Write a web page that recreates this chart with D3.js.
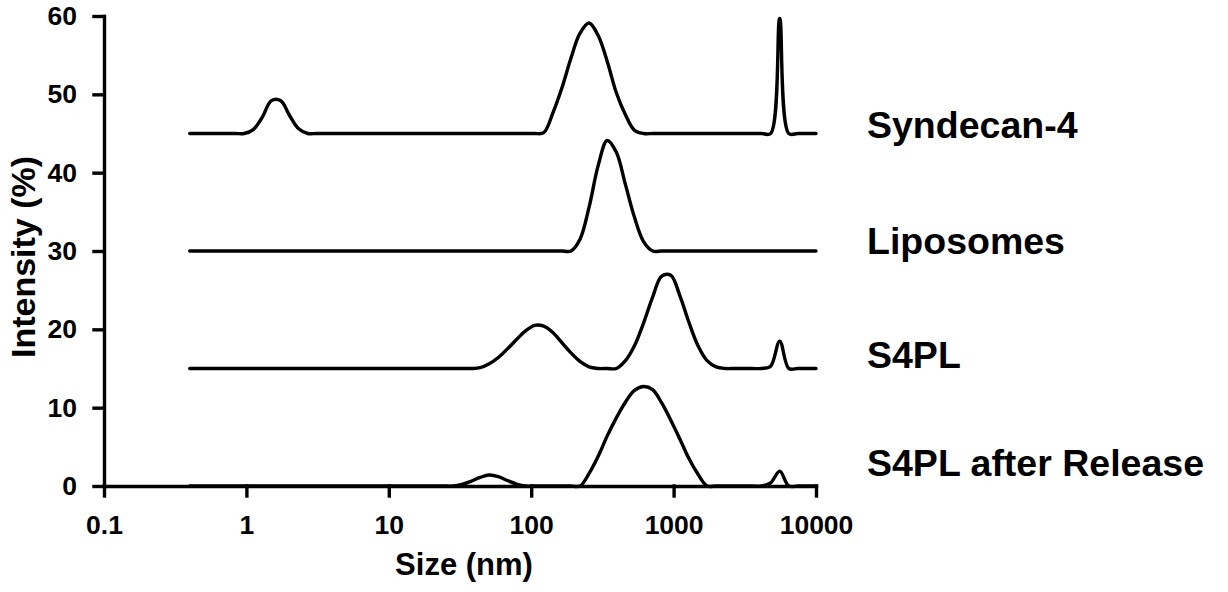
<!DOCTYPE html>
<html>
<head>
<meta charset="utf-8">
<script src="https://cdn.jsdelivr.net/npm/d3@7"></script>
<style>
  body { margin: 0; background: #fff; }
  svg { display: block; }
</style>
</head>
<body>
<script>
// DLS size bins (nm), as exported by the instrument
var sizes = [
  0.4, 0.4632, 0.5365, 0.6213, 0.7195, 0.8332, 0.9649, 1.117, 1.294, 1.499,
  1.736, 2.010, 2.328, 2.696, 3.122, 3.615, 4.187, 4.849, 5.615, 6.503,
  7.531, 8.721, 10.10, 11.70, 13.54, 15.69, 18.17, 21.04, 24.36, 28.21,
  32.67, 37.84, 43.82, 50.75, 58.77, 68.06, 78.82, 91.28, 105.7, 122.4,
  141.8, 164.2, 190.1, 220.2, 255.0, 295.3, 342.0, 396.1, 458.7, 531.2,
  615.1, 712.4, 825.0, 955.4, 1106, 1281, 1484, 1718, 1990, 2305,
  2669, 3091, 3580, 4145, 4801, 5560, 6439, 7456, 8635, 10000
];

// intensity (%) per bin
var syndecan4 = [
  0, 0, 0, 0, 0, 0, 0, 0.5, 2.1, 4.2,
  4.2, 2.3, 0.6, 0, 0, 0, 0, 0, 0, 0,
  0, 0, 0, 0, 0, 0, 0, 0, 0, 0,
  0, 0, 0, 0, 0, 0, 0, 0, 0, 0.1,
  2.6, 5.8, 9.6, 12.8, 14.1, 12.5, 9.2, 5.2, 2.4, 0.4,
  0, 0, 0, 0, 0, 0, 0, 0, 0, 0,
  0, 0, 0, 0, 0, 14.7, 0, 0, 0, 0
];
var liposomes = [
  0, 0, 0, 0, 0, 0, 0, 0, 0, 0,
  0, 0, 0, 0, 0, 0, 0, 0, 0, 0,
  0, 0, 0, 0, 0, 0, 0, 0, 0, 0,
  0, 0, 0, 0, 0, 0, 0, 0, 0, 0,
  0, 0, 0, 1.5, 5.6, 10.9, 14.1, 12.6, 8.5, 4.3,
  1.2, 0, 0, 0, 0, 0, 0, 0, 0, 0,
  0, 0, 0, 0, 0, 0, 0, 0, 0, 0
];
var s4pl = [
  0, 0, 0, 0, 0, 0, 0, 0, 0, 0,
  0, 0, 0, 0, 0, 0, 0, 0, 0, 0,
  0, 0, 0, 0, 0, 0, 0, 0, 0, 0,
  0, 0, 0.1, 0.6, 1.4, 2.5, 3.7, 4.8, 5.5, 5.4,
  4.6, 3.3, 2.0, 0.9, 0.2, 0, 0, 0, 1.0, 2.9,
  5.8, 9.1, 11.8, 11.9, 9.3, 5.9, 2.9, 1.0, 0.2, 0,
  0, 0, 0, 0, 0.3, 3.5, 0, 0, 0, 0
];
var s4plRelease = [
  0, 0, 0, 0, 0, 0, 0, 0, 0, 0,
  0, 0, 0, 0, 0, 0, 0, 0, 0, 0,
  0, 0, 0, 0, 0, 0, 0, 0, 0, 0,
  0.2, 0.6, 1.1, 1.4, 1.2, 0.7, 0.25, 0, 0, 0,
  0, 0, 0, 0, 1.6, 3.8, 6.4, 8.7, 10.7, 12.2,
  12.7, 12.3, 10.6, 8.4, 6.0, 3.5, 1.5, 0, 0, 0,
  0, 0, 0, 0, 0.4, 1.9, 0, 0, 0, 0
];

var names = ["Syndecan-4", "Liposomes", "S4PL", "S4PL after Release"];
var offsets = [45, 30, 15, 0];          // vertical stacking of the traces
var xTicks = [0.1, 1, 10, 100, 1000, 10000];
var yTicks = [0, 10, 20, 30, 40, 50, 60];

// layout
var width = 1228, height = 592;
var labelAt = [44.4, 29.6, 15.1, 1.3];  // label baselines, in axis units
var font = "'Liberation Sans', Arial, sans-serif";

var svg = d3.select("body").append("svg")
    .attr("width", width)
    .attr("height", height);

var x = d3.scaleLog().domain([0.1, 10000]).range([104, 816]);
var y = d3.scaleLinear().domain([0, 60]).range([486, 16]);

var series = [syndecan4, liposomes, s4pl, s4plRelease];

var line = d3.line()
    .x(function(d) { return x(d[0]); })
    .y(function(d) { return y(d[1]); })
    .curve(d3.curveCatmullRom);

svg.append("g").selectAll("path")
    .data(series)
    .enter().append("path")
    .attr("fill", "none")
    .attr("stroke", "#000")
    .attr("stroke-width", 3.4)
    .attr("stroke-linecap", "round")
    .attr("stroke-linejoin", "round")
    .attr("d", function(vals, i) {
        return line(sizes.map(function(s, j) { return [s, vals[j] + offsets[i]]; }));
    });

// axes
var xAxis = svg.append("g")
    .attr("transform", "translate(0,486)")
    .call(d3.axisBottom(x)
        .tickValues(xTicks)
        .tickFormat(function(d) { return String(d); })
        .tickSizeInner(10)
        .tickSizeOuter(0)
        .tickPadding(19));

var yAxis = svg.append("g")
    .attr("transform", "translate(104,0)")
    .call(d3.axisLeft(y)
        .tickValues(yTicks)
        .tickSizeInner(10)
        .tickSizeOuter(0)
        .tickPadding(17));

[xAxis, yAxis].forEach(function(g) {
    g.attr("font-family", font)
     .attr("font-size", 26.5)
     .attr("font-weight", "bold");
    g.selectAll(".domain, .tick line")
     .attr("stroke", "#000")
     .attr("stroke-width", 3.4)
     .attr("stroke-linecap", "square");
    g.selectAll("text").attr("fill", "#000");
});

// axis titles
svg.append("text")
    .attr("x", 464)
    .attr("y", 575)
    .attr("text-anchor", "middle")
    .attr("font-family", font)
    .attr("font-size", 31)
    .attr("font-weight", "bold")
    .text("Size (nm)");

svg.append("text")
    .attr("transform", "translate(35,257) rotate(-90)")
    .attr("text-anchor", "middle")
    .attr("font-family", font)
    .attr("font-size", 34)
    .attr("font-weight", "bold")
    .text("Intensity (%)");

// trace labels
svg.append("g").selectAll("text")
    .data(names)
    .enter().append("text")
    .attr("x", 867)
    .attr("y", function(d, i) { return y(labelAt[i]); })
    .attr("font-family", font)
    .attr("font-size", 37.5)
    .attr("font-weight", "bold")
    .text(function(d) { return d; });
</script>
</body>
</html>
